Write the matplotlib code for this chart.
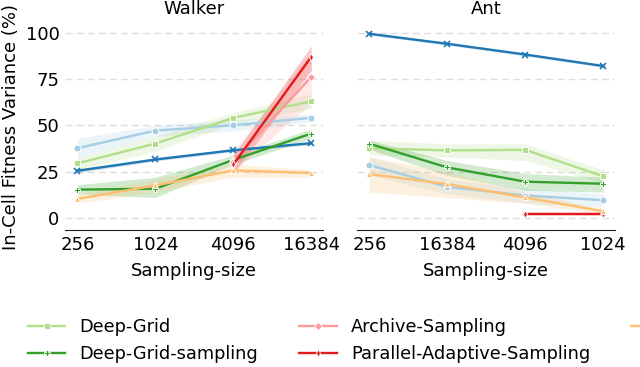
import numpy as np
import matplotlib
matplotlib.use("Agg")
import matplotlib.pyplot as plt
from matplotlib.lines import Line2D

nan = np.nan
walker_sizes = ["256", "1024", "4096", "16384"]
ant_sizes = ["256", "16384", "4096", "1024"]

series_names = ["Vanilla-Sampling", "Grid-Sampling", "Deep-Grid", "Deep-Grid-sampling",
                "Archive-Sampling", "Parallel-Adaptive-Sampling", "Adaptive-Sampling"]
colors = ["#a6cee3", "#1f78b4", "#b2df8a", "#33a02c", "#fb9a99", "#e31a1c", "#fdbf6f"]
markers = ["o", "x", "s", "P", "D", "d", "^"]

# Walker: mean, lower, upper
walker_mean = {
    "Vanilla-Sampling": [37.7, 47.2, 50.1, 54.1],
    "Grid-Sampling": [25.5, 31.6, 36.6, 40.4],
    "Deep-Grid": [29.5, 40.2, 54.1, 63.0],
    "Deep-Grid-sampling": [15.3, 15.8, 31.4, 45.6],
    "Archive-Sampling": [nan, nan, 30.5, 76.3],
    "Parallel-Adaptive-Sampling": [nan, nan, 28.9, 87.1],
    "Adaptive-Sampling": [10.3, 17.6, 25.7, 24.3],
}
walker_lo = {
    "Vanilla-Sampling": [33, 44, 47, 52],
    "Grid-Sampling": [24.5, 30.8, 35.8, 39.6],
    "Deep-Grid": [26, 36, 51, 59],
    "Deep-Grid-sampling": [13, 11, 29, 43],
    "Archive-Sampling": [nan, nan, 25, 62],
    "Parallel-Adaptive-Sampling": [nan, nan, 24, 80],
    "Adaptive-Sampling": [8, 14, 22, 22],
}
walker_hi = {
    "Vanilla-Sampling": [43, 50, 53, 56],
    "Grid-Sampling": [26.5, 32.4, 37.4, 41.2],
    "Deep-Grid": [33, 44, 57, 67],
    "Deep-Grid-sampling": [18, 22, 34, 48],
    "Archive-Sampling": [nan, nan, 36, 90],
    "Parallel-Adaptive-Sampling": [nan, nan, 34, 93],
    "Adaptive-Sampling": [13, 21, 29, 26],
}
ant_mean = {
    "Vanilla-Sampling": [28.6, 16.8, 12.1, 9.6],
    "Grid-Sampling": [99.5, 94.1, 88.3, 82.1],
    "Deep-Grid": [37.7, 36.5, 36.8, 22.5],
    "Deep-Grid-sampling": [40.1, 27.3, 19.6, 18.5],
    "Archive-Sampling": [nan, nan, 2.4, 2.4],
    "Parallel-Adaptive-Sampling": [nan, nan, 2.4, 2.4],
    "Adaptive-Sampling": [23.7, 18.3, 11.1, 3.6],
}
ant_lo = {
    "Vanilla-Sampling": [23, 13, 8, 6],
    "Grid-Sampling": [98.8, 93.4, 87.6, 81.4],
    "Deep-Grid": [34, 33, 31, 19],
    "Deep-Grid-sampling": [37, 23, 15, 14],
    "Archive-Sampling": [nan, nan, 2.0, 2.0],
    "Parallel-Adaptive-Sampling": [nan, nan, 2.0, 2.0],
    "Adaptive-Sampling": [14, 11, 8, 2],
}
ant_hi = {
    "Vanilla-Sampling": [33, 21, 16, 13],
    "Grid-Sampling": [100.2, 94.8, 89.0, 82.8],
    "Deep-Grid": [42, 40, 40, 26],
    "Deep-Grid-sampling": [42, 31, 24, 22],
    "Archive-Sampling": [nan, nan, 2.8, 2.8],
    "Parallel-Adaptive-Sampling": [nan, nan, 2.8, 2.8],
    "Adaptive-Sampling": [33, 25, 14, 5],
}
yticks = [0, 25, 50, 75, 100]

plt.rcParams['font.family'] = ['DejaVu Sans']
fig = plt.figure(figsize=(6.4, 3.67), dpi=100)
W, H = 640, 367
def rect(x0, y0, x1, y1):
    return [x0 / W, 1 - y1 / H, (x1 - x0) / W, (y1 - y0) / H]

ax1 = fig.add_axes(rect(65, 24, 323, 230))
ax2 = fig.add_axes(rect(357, 24, 615, 230))

FS = 13

def draw(ax, sizes, mean, lo, hi, title):
    x = np.arange(len(sizes))
    for name, c, m in zip(series_names, colors, markers):
        mv = np.array(mean[name], float)
        ax.fill_between(x, lo[name], hi[name], color=c, alpha=0.22, lw=0)
        ms = {"o": 5, "x": 4, "s": 4, "P": 5, "D": 4, "d": 4, "^": 4.5}[m]
        ax.plot(x, mv, color=c, lw=1.7, marker=m, ms=ms,
                markeredgecolor="white" if m != "x" else c,
                markeredgewidth=0.7 if m != "x" else 1.2)
    ax.set_xticks(x)
    ax.set_xticklabels(sizes, fontsize=FS)
    ax.set_xlim(-0.16, 3.15)
    ax.set_ylim(-6.5, 104.8)
    ax.set_yticks(yticks)
    ax.yaxis.grid(True, ls=(0, (5, 3)), color="#dddddd", lw=1)
    ax.set_axisbelow(True)
    for s in ("top", "right", "left"):
        ax.spines[s].set_visible(False)
    ax.spines["bottom"].set_color("#222222")
    ax.tick_params(axis="both", length=0, labelsize=FS, pad=4)
    ax.set_xlabel("Sampling-size", fontsize=FS, labelpad=6)
    ax.set_title(title, fontsize=FS, pad=7)

draw(ax1, walker_sizes, walker_mean, walker_lo, walker_hi, "Walker")
draw(ax2, ant_sizes, ant_mean, ant_lo, ant_hi, "Ant")
ax1.set_ylabel("In-Cell Fitness Variance (%)", fontsize=FS, labelpad=4)
ax1.set_yticklabels([str(v) for v in yticks])
ax2.set_yticklabels([])

leg_names = ["Deep-Grid", "Deep-Grid-sampling", "Archive-Sampling",
             "Parallel-Adaptive-Sampling", "Adaptive-Sampling"]
handles = []
for n in leg_names:
    i = series_names.index(n)
    handles.append(Line2D([], [], color=colors[i], marker=markers[i], lw=1.7, ms=4,
                          markeredgecolor="white", markeredgewidth=0.6, label=n))
fig.legend(handles=handles, loc="upper left", bbox_to_anchor=(21 / W, 1 - 311 / H),
           ncol=3, frameon=False, fontsize=12.8, handlelength=2.1,
           handletextpad=0.8, columnspacing=2.3, labelspacing=0.5, borderaxespad=0)

fig.savefig("out.png", dpi=100)
